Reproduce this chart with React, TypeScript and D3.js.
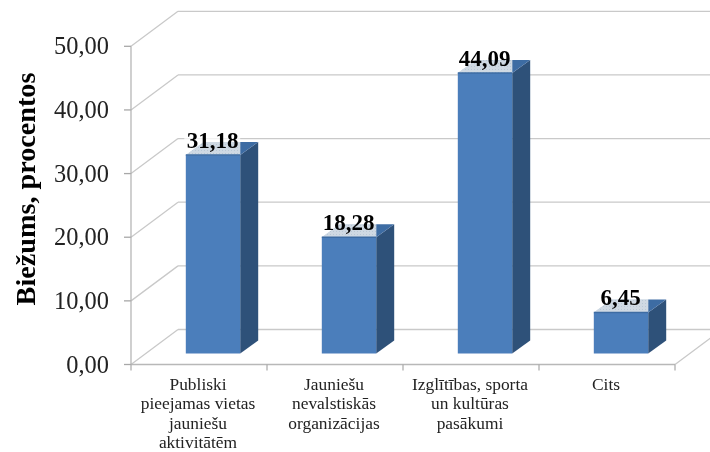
import React from "react";
import * as d3 from "d3";

const categories: string[][] = [
  ["Publiski", "pieejamas vietas", "jauniešu", "aktivitātēm"],
  ["Jauniešu", "nevalstiskās", "organizācijas"],
  ["Izglītības, sporta", "un kultūras", "pasākumi"],
  ["Cits"],
];
const values = [31.18, 18.28, 44.09, 6.45];
const valueLabels = ["31,18", "18,28", "44,09", "6,45"];
const ticks = [0, 10, 20, 30, 40, 50];
const tickLabels = ["0,00", "10,00", "20,00", "30,00", "40,00", "50,00"];
const yTitle = "Biežums, procentos";

const FONT = "'Liberation Serif', 'Times New Roman', serif";
const left = 131, right = 675, base = 364.5, top = 46.3;
const wallDx = 47, wallDy = -35;
const barDx = 18, barDy = -13;
const barLift = 11;

const x = d3.scaleBand<number>().domain(d3.range(categories.length)).range([left, right]);
const y = d3.scaleLinear().domain([0, 50]).range([base, top]);
const poly = (p: [number, number][]) => d3.line()(p) + "Z";

export default function App() {
  const gw = x.bandwidth() * 0.4;
  const grid = "#c9c9c9";
  return (
    <svg width={710} height={452} style={{ position: "absolute", left: 0, top: 0, background: "#fff" }}>
      <defs>
        <filter id="soft" x="-20%" y="-20%" width="140%" height="140%">
          <feGaussianBlur stdDeviation="0.35" />
        </filter>
        <pattern id="dots" width="3" height="3" patternUnits="userSpaceOnUse">
          <rect width="3" height="3" fill="#cfd9e3" />
          <rect width="1" height="1" fill="#b9c8d6" />
        </pattern>
      </defs>
      <g filter="url(#soft)">
        {ticks.map((t) => (
          <g key={t} stroke={grid} strokeWidth={1.3} fill="none">
            <line x1={left} x2={left + wallDx} y1={y(t)} y2={y(t) + wallDy} />
            <line x1={left + wallDx} x2={right + wallDx} y1={y(t) + wallDy} y2={y(t) + wallDy} />
            <line x1={left - 7} x2={left} y1={y(t)} y2={y(t)} stroke="#a8a8a8" />
          </g>
        ))}
        <line x1={left} x2={left} y1={top} y2={base} stroke="#b0b0b0" strokeWidth={1.2} />
        <line x1={left} x2={right} y1={base} y2={base} stroke="#b8b8b8" strokeWidth={1.3} />
        <line x1={right} x2={right + wallDx} y1={base} y2={base + wallDy} stroke={grid} strokeWidth={1.3} />
        {d3.range(categories.length + 1).map((i) => {
          const px = left + i * x.step();
          return <line key={i} x1={px} x2={px} y1={base} y2={base + 6} stroke="#a8a8a8" strokeWidth={1.2} />;
        })}
        {values.map((v, i) => {
          const x0 = (x(i) as number) + (x.bandwidth() - gw) / 2 + 14;
          const x1 = x0 + gw;
          const yb = base - barLift;
          const yt = y(v) - barLift;
          return (
            <g key={i}>
              <path d={poly([[x1, yb], [x1 + barDx, yb + barDy], [x1 + barDx, yt + barDy], [x1, yt]])} fill="#2f5179" />
              <path d={poly([[x0, yt], [x1, yt], [x1 + barDx, yt + barDy], [x0 + barDx, yt + barDy]])} fill="#3e6ca3" />
              <rect x={x0} y={yt} width={gw} height={yb - yt} fill="#4c7ebb" />
              <rect x={x0 - 1.5} y={yt + barDy * 2.25} width={gw + 1.5} height={-barDy * 2.25} fill="#fff" fillOpacity={0.75} />
              <path d={poly([[x0, yt], [x1, yt], [x1, yt + barDy], [x0 + barDx, yt + barDy]])} fill="url(#dots)" />
              <line x1={x0} x2={x1} y1={yt} y2={yt} stroke="#3e6ca3" strokeWidth={1.5} />
            </g>
          );
        })}
        {values.map((v, i) => {
          const cx = (x(i) as number) + x.bandwidth() / 2 + 14;
          return (
            <text key={i} x={cx - 0.5} y={y(v) - barLift - 7} textAnchor="middle" fontFamily={FONT} fontWeight="bold" fontSize={23} fill="#000">
              {valueLabels[i]}
            </text>
          );
        })}
        {ticks.map((t, i) => (
          <text key={t} x={109} y={y(t) + 8} textAnchor="end" fontFamily={FONT} fontSize={24.4} fill="#222">
            {tickLabels[i]}
          </text>
        ))}
        {categories.map((lines, i) => (
          <text key={i} textAnchor="middle" fontFamily={FONT} fontSize={17.4} fill="#222">
            {lines.map((l, j) => (
              <tspan key={j} x={(x(i) as number) + x.bandwidth() / 2 - 1} y={390 + j * 19.4}>{l}</tspan>
            ))}
          </text>
        ))}
        <text transform="translate(35,189) rotate(-90)" textAnchor="middle" fontFamily={FONT} fontWeight="bold" fontSize={28.2} fill="#000">
          {yTitle}
        </text>
      </g>
    </svg>
  );
}
